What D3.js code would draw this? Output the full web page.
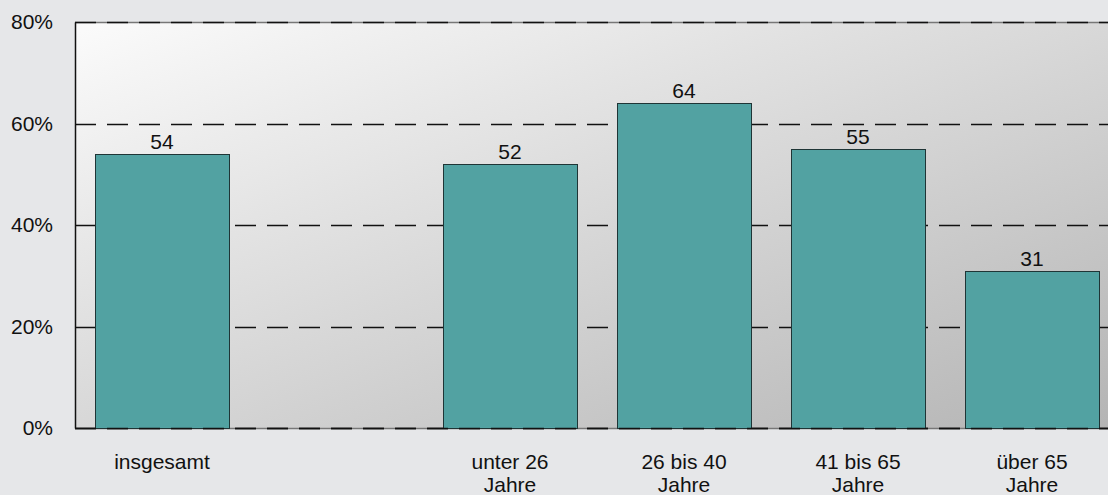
<!DOCTYPE html>
<html>
<head>
<meta charset="utf-8">
<script src="https://cdn.jsdelivr.net/npm/d3@7"></script>
<style>
  html, body { margin: 0; padding: 0; background: #e6e7e9; }
  svg { display: block; font-family: "Liberation Sans", Arial, Helvetica, sans-serif; }
</style>
</head>
<body>
<svg id="chart" width="1108" height="495"></svg>
<script>
// Categories (one empty slot separates the total from the age groups)
const categories = ["insgesamt", "gap", "unter 26", "26 bis 40", "41 bis 65", "über 65"];
const categoryLines = [["insgesamt"], [], ["unter 26", "Jahre"], ["26 bis 40", "Jahre"], ["41 bis 65", "Jahre"], ["über 65", "Jahre"]];
const values = [54, null, 52, 64, 55, 31];
const yTicks = [0, 20, 40, 60, 80];
const yTickLabels = ["0%", "20%", "40%", "60%", "80%"];

const FONT = 21;
const svg = d3.select("#chart");
const plot = { left: 75, top: 22, right: 1119, bottom: 428 };

const x = d3.scaleBand()
  .domain(categories)
  .range([plot.left, plot.right])
  .paddingInner(40 / 174)
  .paddingOuter(20 / 174);

const y = d3.scaleLinear().domain([0, 80]).range([plot.bottom, plot.top]);

// Diagonal gradient for the plotting area
const defs = svg.append("defs");
const grad = defs.append("linearGradient")
  .attr("id", "plotBg")
  .attr("x1", 0).attr("y1", 0)
  .attr("x2", 1).attr("y2", 1);
grad.append("stop").attr("offset", "0%").attr("stop-color", "#fbfbfb");
grad.append("stop").attr("offset", "100%").attr("stop-color", "#b4b4b4");

svg.append("rect")
  .attr("x", plot.left).attr("y", plot.top)
  .attr("width", plot.right - plot.left).attr("height", plot.bottom - plot.top)
  .attr("fill", "url(#plotBg)");

// Plot frame lines (top and bottom) in gray beneath the dashed gridlines
svg.append("g").selectAll("line")
  .data([80, 0])
  .join("line")
  .attr("x1", plot.left).attr("x2", plot.right)
  .attr("y1", d => Math.round(y(d)) + 0.5).attr("y2", d => Math.round(y(d)) + 0.5)
  .attr("stroke", "#777").attr("stroke-width", 1.3);

// Dashed gridlines
svg.append("g").selectAll("line")
  .data(yTicks)
  .join("line")
  .attr("x1", plot.left).attr("x2", plot.right)
  .attr("y1", d => Math.round(y(d)) + 0.5).attr("y2", d => Math.round(y(d)) + 0.5)
  .attr("stroke", "#111").attr("stroke-width", 1.3)
  .attr("stroke-dasharray", "21,11");

// Y axis
const yAxis = d3.axisLeft(y)
  .tickValues(yTicks)
  .tickFormat((d, i) => yTickLabels[i])
  .tickSize(0)
  .tickPadding(22);
const gy = svg.append("g").attr("transform", `translate(${plot.left},0)`).call(yAxis);
gy.attr("font-size", FONT).attr("font-family", "Liberation Sans, Arial, sans-serif");
gy.select(".domain").attr("stroke", "#111").attr("stroke-width", 1.5);
gy.selectAll("text").attr("fill", "#111");

// Bars
const data = categories.map((c, i) => ({ c, v: values[i], lines: categoryLines[i] }));
svg.append("g").selectAll("rect")
  .data(data.filter(d => d.v !== null))
  .join("rect")
  .attr("x", d => Math.round(x(d.c)) + 0.5)
  .attr("y", d => Math.round(y(d.v)) + 0.5)
  .attr("width", x.bandwidth())
  .attr("height", d => y(0) - Math.round(y(d.v)))
  .attr("fill", "#52a2a2")
  .attr("stroke", "#1f3536")
  .attr("stroke-width", 1);

// Bottom axis line on top of bars
svg.append("line")
  .attr("x1", plot.left).attr("x2", plot.right)
  .attr("y1", plot.bottom + 0.5).attr("y2", plot.bottom + 0.5)
  .attr("stroke", "#111").attr("stroke-width", 1.3)
  .attr("stroke-dasharray", "21,11");

// Value labels
svg.append("g").selectAll("text")
  .data(data.filter(d => d.v !== null))
  .join("text")
  .attr("x", d => x(d.c) + x.bandwidth() / 2)
  .attr("y", d => y(d.v) - 5)
  .attr("text-anchor", "middle")
  .attr("font-size", FONT)
  .attr("fill", "#111")
  .text(d => d.v);

// Category labels
const xl = svg.append("g").selectAll("text")
  .data(data)
  .join("text")
  .attr("x", d => x(d.c) + x.bandwidth() / 2)
  .attr("y", 469)
  .attr("text-anchor", "middle")
  .attr("font-size", FONT)
  .attr("fill", "#111");
xl.selectAll("tspan")
  .data(d => d.lines.map(l => ({ l, cx: x(d.c) + x.bandwidth() / 2 })))
  .join("tspan")
  .attr("x", d => d.cx)
  .attr("dy", (d, i) => i === 0 ? 0 : 23)
  .text(d => d.l);
</script>
</body>
</html>
